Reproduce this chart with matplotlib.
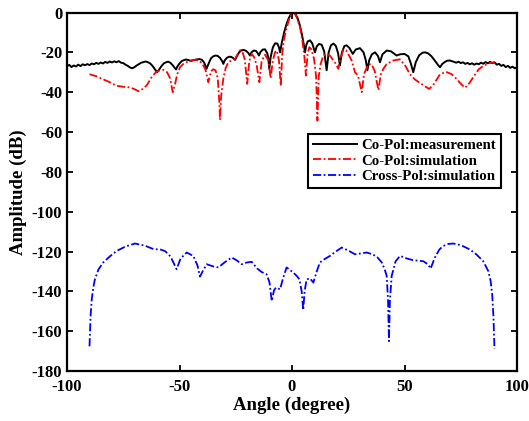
import matplotlib
matplotlib.use("Agg")
import matplotlib.pyplot as plt

plt.rcParams['font.family'] = ['Liberation Serif', 'DejaVu Serif']
plt.rcParams['font.weight'] = 'bold'
plt.rcParams['axes.unicode_minus'] = False

# Co-Pol measurement
meas_angle = [-100,-99,-98,-97,-96,-95,-94,-93,-92,-91,-90,-89,-88,-87,-86,-85,-84,-83,-82,-81,
              -80,-79,-78,-77,-76,-75,-74,-73,-72,-71,-70,-69,-68,-67,-66,-65,-64,-63,-62,-61,
              -60,-59,-58,-57,-56,-55,-54,-53,-52,-51.5,-51,-50,-49,-48,-47,-46,-45,-44,-43,-42,
              -41,-40,-39,-38,-37,-36,-35,-34,-33,-32,-31,-30.5,-30,-29,-28,-27,-26,-25.3,-24.5,-23.5,
              -22.5,-21.5,-20.5,-19.5,-18.7,-18,-17,-16,-15.2,-14.7,-14,-13,-12,-11,-10.5,-10.1,-9.5,-8.5,
              -7.5,-6.5,-5.8,-5.3,-4.5,-3.5,-2.5,-1.5,-0.5,0.5,1.5,2.5,3.5,4.5,5.3,5.8,6.3,7,8,9,10.2,
              11,12,13.2,14.3,15.4,16.3,17.3,18.4,19.5,20.5,21.3,22.2,23.3,24.3,25.5,27,28.3,30.2,31.8,
              32.8,33.5,34.3,35.5,36.9,38.2,39.1,40.2,42.1,44,46.5,48,50,51.7,52.8,53.9,55,56.5,58,59.1,
              60.5,62,63.5,65,65.8,66.8,68,69,70.2,71.5,73,74,75,76,77,78,79,80,81,82,83,84,85,86,87,88,
              89,90,91,92,93,94,95,96,97,98,99,100]
meas_db = [-27.0,-26.3,-27.4,-26.6,-27.1,-26.2,-26.9,-26.0,-26.5,-25.9,-26.4,-25.6,-26.0,-25.3,-25.8,-25.1,-25.6,-24.8,-25.3,-24.6,
           -25.1,-24.5,-25.0,-24.4,-25.2,-25.4,-26.2,-26.8,-27.6,-28.0,-27.4,-26.6,-25.9,-25.2,-24.9,-24.6,-25.0,-25.6,-26.8,-28.4,
           -30.0,-28.6,-26.9,-25.6,-25.0,-24.7,-25.3,-26.5,-28.0,-28.6,-27.2,-25.6,-24.4,-23.9,-23.6,-23.9,-24.3,-24.0,-23.7,-23.5,
           -23.4,-23.8,-25.2,-28.3,-25.5,-23.0,-22.0,-21.6,-21.8,-22.8,-24.5,-25.8,-24.2,-22.8,-22.2,-22.3,-23.0,-23.8,-22.0,-20.0,
           -19.0,-18.8,-19.2,-20.2,-21.6,-20.0,-19.1,-19.3,-20.5,-21.6,-19.8,-18.6,-18.5,-20.5,-23.0,-28.3,-22.5,-17.5,
           -15.5,-15.6,-17.5,-20.0,-15.0,-10.0,-6.0,-3.0,-0.8,0.0,-0.8,-2.8,-6.5,-11.5,-16.5,-20.0,-16.5,-14.5,-14.0,-15.5,-20.0,
           -17.0,-15.8,-16.2,-19.5,-29.0,-20.0,-16.5,-15.6,-16.8,-20.5,-26.6,-20.0,-16.8,-16.5,-17.8,-20.8,-18.6,-17.9,-20.0,
           -24.0,-29.0,-24.0,-21.0,-20.0,-21.8,-25.0,-21.0,-19.1,-19.5,-21.6,-21.0,-20.8,-22.0,-25.5,-30.0,-25.0,-21.5,-20.2,-20.0,
           -20.5,-22.0,-24.2,-26.5,-27.5,-25.8,-24.8,-24.2,-24.1,-24.6,-25.2,-24.7,-25.4,-25.0,-25.8,-25.3,-26.0,-25.5,-26.2,-25.6,-26.0,-25.2,-25.7,-24.9,-25.5,-24.8,
           -25.4,-25.0,-26.2,-25.8,-26.8,-26.3,-27.4,-26.8,-27.8,-27.2,-28.0,-27.5]

# Co-Pol simulation
sim_angle = [-90,-87,-84,-81,-78,-75,-72,-70,-68.3,-66.5,-64.5,-62.4,-60.5,-58.7,-57.2,-55.5,-54.2,-53,-52,-51,
             -49.8,-48.3,-46,-43.9,-41.5,-40,-38.5,-37.2,-36,-35,-34,-33,-32.3,-32,-31.5,-30.5,-29.5,-28.3,-26.5,-25.3,
             -24,-23.1,-22,-21,-19.9,-19,-17.9,-16.8,-15.7,-14.5,-13.5,-12,-10.5,-9.5,-8.5,-7.5,-6.8,-5.8,-5.0,-4.3,
             -3.5,-2.4,-1.2,0,0.6,1.5,2.5,3.6,4.6,5.5,6.2,6.9,7.7,8.6,9.8,10.7,11.3,11.9,12.7,13.9,15.4,17,18.4,19.6,
             20.6,21.5,22.8,24,25.3,26.5,28,29.3,31,32,32.9,34,35.4,36.8,38.4,39.5,40.6,42,45,48,50.5,52.4,54.5,57,59,61,
             63,65.8,68.5,71,73.2,75.2,76.9,78.8,80.6,83,85,87.5,90]
sim_db = [-31.0,-32.0,-33.5,-35.0,-36.8,-37.3,-37.6,-38.5,-39.5,-38.5,-36.5,-32.5,-30.0,-29.0,-28.8,-30.0,-33.0,-40.0,-36.0,-31.0,
          -27.5,-25.8,-24.5,-23.8,-24.0,-25.5,-28.5,-35.0,-29.5,-28.5,-29.0,-33.0,-45.0,-54.0,-42.0,-33.0,-28.0,-25.0,-23.8,-23.3,
          -20.5,-19.0,-19.8,-23.5,-35.8,-24.5,-20.8,-22.5,-26.6,-35.0,-24.5,-21.2,-24.0,-33.0,-24.0,-19.8,-19.1,-24.0,-36.8,-20.0,
          -13.0,-8.0,-3.0,-0.2,0.0,-1.0,-3.5,-7.5,-14.0,-22.0,-31.7,-21.0,-17.4,-18.5,-23.3,-32.0,-54.3,-32.0,-26.0,-21.6,-20.8,-21.8,-24.1,-26.0,
          -28.3,-23.0,-18.8,-19.0,-21.5,-24.1,-30.0,-31.5,-40.0,-31.0,-28.5,-26.0,-26.0,-29.5,-39.0,-31.0,-28.3,-26.0,-24.1,-23.5,-27.0,-31.0,-33.5,-35.5,-37.0,-38.4,
          -36.0,-31.0,-29.8,-31.0,-33.4,-36.0,-37.8,-35.5,-32.4,-28.5,-26.8,-25.5,-25.0]

# Cross-Pol simulation
xp_angle = [-90,-89.5,-89,-88.3,-87.6,-86,-83.9,-81,-77.9,-74,-69.8,-65.5,-61.6,-58.5,-56.4,-54,-52.3,-51.3,-49.5,-46.8,
            -43.9,-42,-40.9,-39.5,-37.9,-35,-32.7,-30,-26.8,-24.5,-22.4,-20,-17.9,-15.5,-13.5,-11.3,-10,-9,-8,-7.1,
            -5.3,-4,-2.4,0.6,2.3,3.3,4.3,5,5.6,6.5,8,9.5,11,12.4,14.5,16.9,19.5,22.1,25,28,30.5,33.2,36,38,39.9,41.2,
            42.1,42.7,43.1,43.5,44.3,46,48,51,53.9,56,58.4,60.5,61.6,63.5,65.5,67.3,69.5,71.7,75,79.1,82,85,87.3,88.3,89,89.5,90]
xp_db = [-167.6,-152,-144,-138,-134,-129,-125.5,-122.5,-119.7,-117.5,-116.0,-117.0,-118.8,-119.0,-119.8,-122.5,-126.5,-128.9,-123.5,-120.5,
         -122.2,-127,-132.6,-129.5,-126.4,-127.5,-128.0,-125.5,-123.0,-124.5,-126.4,-125.5,-125.2,-128.5,-130.3,-131.4,-135.5,-144.9,-139.5,-138.1,
         -139.0,-133.5,-128.0,-130.6,-132.5,-134.0,-140.0,-149.4,-140.0,-134.0,-133.5,-135.6,-130.0,-125.5,-123.8,-122.2,-120.0,-118.0,-119.5,-121.4,-121.0,-120.5,-121.5,-123.0,-125.5,-129.0,
         -132.3,-145.0,-165.0,-145.0,-132.3,-125.0,-122.2,-123.5,-124.4,-124.6,-124.9,-126.5,-128.6,-123.0,-119.0,-117.2,-116.2,-116.0,-116.8,-119.0,-121.5,-124.9,-130.0,-135.0,-142.0,-152.0,-169.0]

fig = plt.figure(figsize=(5.29, 4.21), dpi=100)
ax = fig.add_axes([67/529, 50/421, 450/529, 358.5/421])

ax.plot(meas_angle, meas_db, color='black', lw=1.4, linestyle='-', label='Co-Pol:measurement')
ax.plot(sim_angle, sim_db, color='red', lw=1.3, linestyle=(0, (4.5, 1.4, 1.0, 1.4)), label='Co-Pol:simulation')
ax.plot(xp_angle, xp_db, color='blue', lw=1.3, linestyle=(0, (4.5, 1.4, 1.0, 1.4)), label='Cross-Pol:simulation')

ax.set_xlim(-100, 100)
ax.set_ylim(-180, 0)
ax.set_xticks([-100, -50, 0, 50, 100])
ax.set_yticks(list(range(-180, 1, 20)))
ax.tick_params(direction='in', length=4, width=1.3, top=True, right=True, labelsize=12)
ax.tick_params(axis='x', pad=6)
for s in ax.spines.values():
    s.set_linewidth(1.6)
for lab in ax.get_xticklabels() + ax.get_yticklabels():
    lab.set_fontweight('bold')

ax.set_xlabel('Angle (degree)', fontsize=13.5, fontweight='bold', labelpad=1)
ax.set_ylabel('Amplitude (dB)', fontsize=13.5, fontweight='bold', labelpad=3)

leg = ax.legend(loc='upper left', bbox_to_anchor=(0.536, 0.661), borderaxespad=0,
                fancybox=False, framealpha=1, edgecolor='black',
                handlelength=3.0, handletextpad=0.3, labelspacing=0.15, borderpad=0.3,
                prop={'weight': 'bold', 'size': 10.7})
leg.get_frame().set_linewidth(1.5)

fig.savefig('out.png', dpi=100)
